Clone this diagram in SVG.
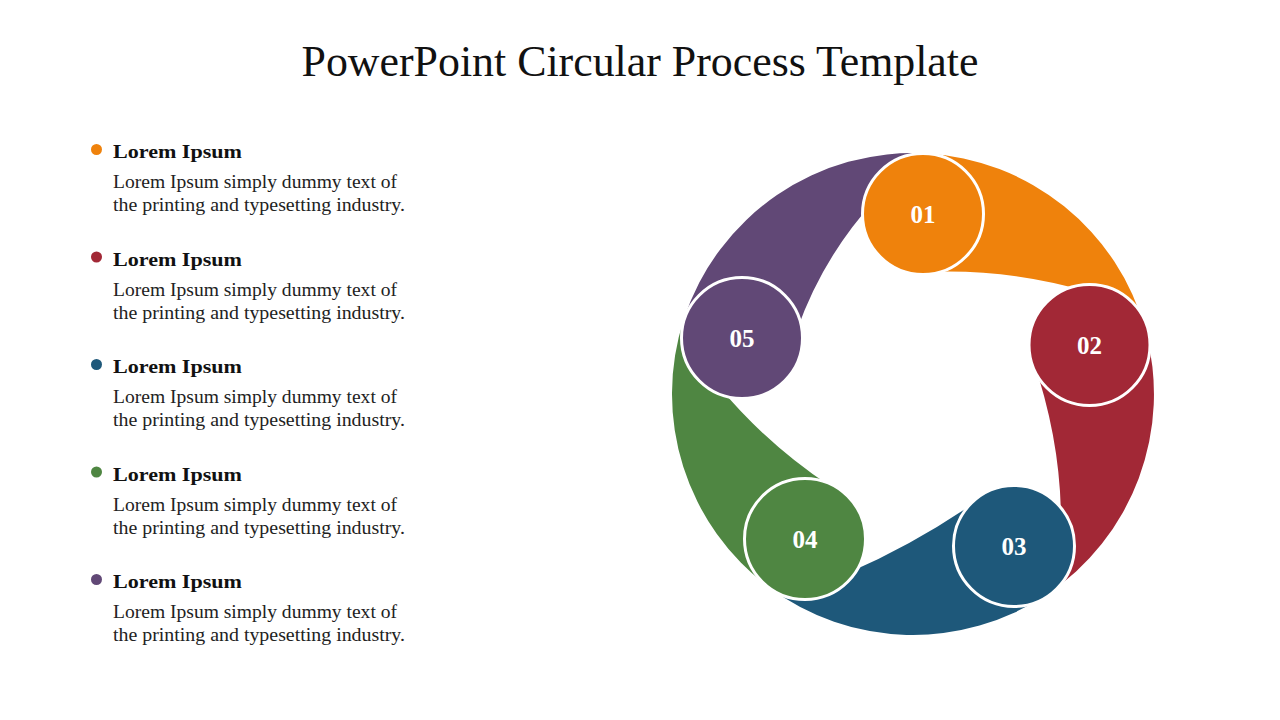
<svg xmlns="http://www.w3.org/2000/svg" width="1280" height="720" viewBox="0 0 1280 720">
<style>
.title{font-family:"Liberation Serif","DejaVu Serif",serif;font-size:44px;fill:#111}
.head{font-family:"Liberation Serif","DejaVu Serif",serif;font-size:19px;font-weight:bold;fill:#111}
.body{font-family:"Liberation Serif","DejaVu Serif",serif;font-size:19px;fill:#222}
.num{font-family:"Liberation Serif","DejaVu Serif",serif;font-size:25px;font-weight:bold;fill:#fff;text-anchor:middle}
.node{stroke:#fff;stroke-width:3}
.o{fill:#EF820C}.r{fill:#A22836}.b{fill:#1E587A}.g{fill:#4F8642}.p{fill:#614876}
</style>
<rect width="1280" height="720" fill="#fff"/>
<text class="title" x="640" y="76" text-anchor="middle" textLength="677" lengthAdjust="spacingAndGlyphs">PowerPoint Circular Process Template</text>

<g id="list">
  <g id="item1">
    <circle class="o" cx="96.5" cy="149.5" r="5.5"/>
    <text class="head" x="113" y="158" textLength="129" lengthAdjust="spacingAndGlyphs">Lorem Ipsum</text>
    <text class="body" x="113" y="188" textLength="284" lengthAdjust="spacingAndGlyphs">Lorem Ipsum simply dummy text of</text>
    <text class="body" x="113" y="211" textLength="292" lengthAdjust="spacingAndGlyphs">the printing and typesetting industry.</text>
  </g>
  <g id="item2">
    <circle class="r" cx="96.5" cy="257" r="5.5"/>
    <text class="head" x="113" y="266" textLength="129" lengthAdjust="spacingAndGlyphs">Lorem Ipsum</text>
    <text class="body" x="113" y="296" textLength="284" lengthAdjust="spacingAndGlyphs">Lorem Ipsum simply dummy text of</text>
    <text class="body" x="113" y="319" textLength="292" lengthAdjust="spacingAndGlyphs">the printing and typesetting industry.</text>
  </g>
  <g id="item3">
    <circle class="b" cx="96.5" cy="364.5" r="5.5"/>
    <text class="head" x="113" y="373" textLength="129" lengthAdjust="spacingAndGlyphs">Lorem Ipsum</text>
    <text class="body" x="113" y="403" textLength="284" lengthAdjust="spacingAndGlyphs">Lorem Ipsum simply dummy text of</text>
    <text class="body" x="113" y="426" textLength="292" lengthAdjust="spacingAndGlyphs">the printing and typesetting industry.</text>
  </g>
  <g id="item4">
    <circle class="g" cx="96.5" cy="472" r="5.5"/>
    <text class="head" x="113" y="481" textLength="129" lengthAdjust="spacingAndGlyphs">Lorem Ipsum</text>
    <text class="body" x="113" y="511" textLength="284" lengthAdjust="spacingAndGlyphs">Lorem Ipsum simply dummy text of</text>
    <text class="body" x="113" y="534" textLength="292" lengthAdjust="spacingAndGlyphs">the printing and typesetting industry.</text>
  </g>
  <g id="item5">
    <circle class="p" cx="96.5" cy="579.5" r="5.5"/>
    <text class="head" x="113" y="588" textLength="129" lengthAdjust="spacingAndGlyphs">Lorem Ipsum</text>
    <text class="body" x="113" y="618" textLength="284" lengthAdjust="spacingAndGlyphs">Lorem Ipsum simply dummy text of</text>
    <text class="body" x="113" y="641" textLength="292" lengthAdjust="spacingAndGlyphs">the printing and typesetting industry.</text>
  </g>
</g>

<g id="connectors">
  <path class="o" d="M 926.4 153.4 A 241 241 0 0 1 1145.2 329.6 L 1089.5 345 L 1089 292 Q 1007 268 925 272 L 923 214 Z"/>
  <path class="r" d="M 1145.2 329.6 A 241 241 0 0 1 1046.4 594.7 L 1014 546 L 1061 528 Q 1062 444 1033 360 L 1089.5 345 Z"/>
  <path class="b" d="M 1046.4 594.7 A 241 241 0 0 1 769 587.2 L 805 539 L 850 572 Q 915 544 980 499 L 1014 546 Z"/>
  <path class="g" d="M 769 587.2 A 241 241 0 0 1 683.9 319.1 L 742 338 L 718 385.5 Q 766.6 444 830 486 L 805 539 Z"/>
  <path class="p" d="M 683.9 319.1 A 241 241 0 0 1 926.4 153.4 L 923 214 L 875 200 Q 822.8 257 797 330 L 742 338 Z"/>
</g>

<g id="node1"><circle class="node o" cx="923" cy="214" r="60.5"/><text class="num" x="923" y="222.5">01</text></g>
<g id="node2"><circle class="node r" cx="1089.5" cy="345" r="60.5"/><text class="num" x="1089.5" y="353.5">02</text></g>
<g id="node3"><circle class="node b" cx="1014" cy="546" r="60.5"/><text class="num" x="1014" y="554.5">03</text></g>
<g id="node4"><circle class="node g" cx="805" cy="539" r="60.5"/><text class="num" x="805" y="547.5">04</text></g>
<g id="node5"><circle class="node p" cx="742" cy="338" r="60.5"/><text class="num" x="742" y="346.5">05</text></g>
</svg>
